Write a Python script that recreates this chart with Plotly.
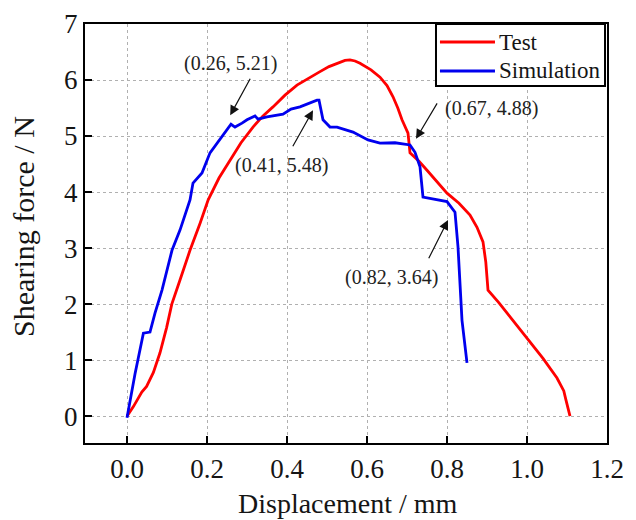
import plotly.graph_objects as go

# Test curve (displacement in mm, shearing force in N)
test_disp = [0.0, 0.016, 0.037, 0.049, 0.066, 0.0825, 0.099, 0.112, 0.1325, 0.1575,
             0.1825, 0.203, 0.23, 0.2575, 0.285, 0.315, 0.34, 0.365, 0.395, 0.425,
             0.455, 0.4825, 0.505, 0.525, 0.545, 0.5575, 0.57, 0.5825, 0.61, 0.6325,
             0.65, 0.665, 0.677, 0.6875, 0.697, 0.7025, 0.7075, 0.73, 0.75, 0.775,
             0.80, 0.83, 0.8575, 0.875, 0.89, 0.897, 0.9025, 0.93, 0.965, 1.0,
             1.04, 1.075, 1.092, 1.097, 1.1075]
test_force = [0.0, 0.17, 0.43, 0.53, 0.78, 1.13, 1.58, 2.00, 2.43, 2.96,
              3.44, 3.86, 4.25, 4.57, 4.88, 5.16, 5.36, 5.52, 5.73, 5.91,
              6.04, 6.15, 6.24, 6.30, 6.35, 6.36, 6.34, 6.30, 6.18, 6.05,
              5.90, 5.70, 5.50, 5.29, 5.15, 5.05, 4.70, 4.55, 4.39, 4.19,
              3.98, 3.80, 3.59, 3.37, 3.11, 2.75, 2.25, 2.02, 1.71, 1.40,
              1.03, 0.68, 0.45, 0.30, 0.0]

# Simulation curve
sim_disp = [0.0, 0.02, 0.041, 0.0575, 0.07, 0.0875, 0.1125, 0.1325, 0.1575, 0.165,
            0.1875, 0.2075, 0.26, 0.27, 0.2875, 0.30, 0.32, 0.3275, 0.35, 0.39,
            0.41, 0.4325, 0.475, 0.48, 0.49, 0.5075, 0.525, 0.565, 0.6025, 0.6325,
            0.67, 0.7075, 0.72, 0.7325, 0.74, 0.78, 0.80, 0.82, 0.8275, 0.8375, 0.85]
sim_force = [-0.03, 0.75, 1.48, 1.50, 1.84, 2.25, 2.96, 3.32, 3.86, 4.16,
             4.34, 4.70, 5.21, 5.16, 5.23, 5.29, 5.36, 5.30, 5.34, 5.39,
             5.48, 5.52, 5.64, 5.64, 5.29, 5.16, 5.16, 5.07, 4.93, 4.875,
             4.88, 4.84, 4.71, 4.45, 3.91, 3.86, 3.83, 3.64, 3.02, 1.71, 0.95]

series_names = ["Test", "Simulation"]
series_colors = ["#ff0000", "#0000ee"]

# Marked points: (x, y) value, label centre, arrow tail, arrow tip
marks = [
    ((0.26, 5.21), (0.258, 6.30), (0.31, 6.05), (0.258, 5.37)),
    ((0.41, 5.48), (0.386, 4.48), (0.4125, 4.79), (0.465, 5.46)),
    ((0.67, 4.88), (0.91, 5.50), (0.7775, 5.61), (0.7225, 4.95)),
    ((0.82, 3.64), (0.66, 2.48), (0.7525, 2.79), (0.8025, 3.50)),
]

x_ticks = [0.0, 0.2, 0.4, 0.6, 0.8, 1.0, 1.2]
y_ticks = [0, 1, 2, 3, 4, 5, 6, 7]
x_title = "Displacement / mm"
y_title = "Shearing force / N"

FONT = "Liberation Serif"
INK = "#151515"

fig = go.Figure()
for name, color, xs, ys in zip(series_names, series_colors,
                               [test_disp, sim_disp], [test_force, sim_force]):
    fig.add_trace(go.Scatter(x=xs, y=ys, mode="lines", name=name,
                             line=dict(color=color, width=2.8),
                             showlegend=False))

for (vx, vy), (lx, ly), (tx, ty), (hx, hy) in marks:
    fig.add_annotation(x=hx, y=hy, ax=tx, ay=ty, axref="x", ayref="y",
                       xref="x", yref="y", text="", showarrow=True,
                       arrowhead=2, arrowsize=1.6, arrowwidth=1.2,
                       arrowcolor="#111111")
    fig.add_annotation(x=lx, y=ly, xref="x", yref="y",
                       text=f"({vx:.2f}, {vy:.2f})", showarrow=False,
                       font=dict(family=FONT, size=20, color="#222222"))

# Boxed key in the upper-right corner of the plotting area
fig.add_shape(type="rect", xref="paper", yref="paper",
              x0=0.6724, x1=0.9962, y0=0.852, y1=1.0,
              line=dict(color="black", width=2), fillcolor="white", layer="above")
for i, (name, color) in enumerate(zip(series_names, series_colors)):
    yk = 0.957 - i * 0.069
    fig.add_shape(type="line", xref="paper", yref="paper",
                  x0=0.680, x1=0.7854, y0=yk, y1=yk,
                  line=dict(color=color, width=3), layer="above")
    fig.add_annotation(x=0.790, y=yk, xref="paper", yref="paper",
                       xanchor="left", yanchor="middle", text=name,
                       showarrow=False,
                       font=dict(family=FONT, size=23, color=INK))

# Axis titles
fig.add_annotation(x=0.503, y=-0.145, xref="paper", yref="paper",
                   xanchor="center", yanchor="middle", text=x_title,
                   showarrow=False, font=dict(family=FONT, size=28, color=INK))
fig.add_annotation(x=-0.117, y=0.518, xref="paper", yref="paper",
                   xanchor="center", yanchor="middle", text=y_title,
                   textangle=-90, showarrow=False,
                   font=dict(family=FONT, size=30, color=INK))

axis_common = dict(
    showline=True, linecolor="black", linewidth=2, mirror=True,
    ticks="inside", ticklen=7, tickwidth=2, tickcolor="black",
    showgrid=True, gridcolor="#b0b0b0", gridwidth=1, griddash="dot",
    zeroline=False, automargin=False,
    tickfont=dict(family=FONT, size=27, color=INK),
)

fig.update_xaxes(range=[-0.105, 1.2], tickvals=x_ticks,
                 ticktext=[f"{v:.1f}" for v in x_ticks],
                 ticklabelstandoff=1, **axis_common)
fig.update_yaxes(range=[-0.48, 7], tickvals=y_ticks,
                 ticktext=[str(v) for v in y_ticks],
                 **axis_common)

fig.update_layout(
    width=636, height=520,
    margin=dict(l=85, r=29, t=24, b=77),
    plot_bgcolor="white", paper_bgcolor="white",
    font=dict(family=FONT, color=INK),
    showlegend=False,
)

fig.write_html("out.html")
